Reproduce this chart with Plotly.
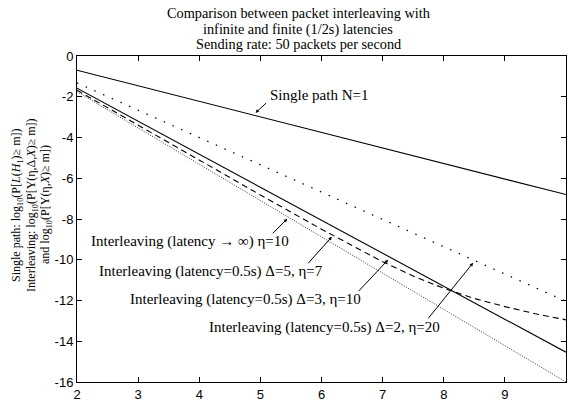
import plotly.graph_objects as go

m_vals = [2, 3, 4, 5, 6, 7, 7.5, 8, 8.5, 9, 9.5, 10]
single_path = [-0.7, -1.46, -2.22, -2.99, -3.75, -4.51, -4.89, -5.27, -5.65, -6.04, -6.42, -6.8]
inter_d2_eta20 = [-1.32, -2.66, -4.0, -5.34, -6.68, -8.02, -8.69, -9.36, -10.03, -10.7, -11.37, -12.04]
inter_d3_eta10 = [-1.58, -3.2, -4.82, -6.44, -8.06, -9.68, -10.49, -11.3, -12.11, -12.92, -13.73, -14.54]
inter_d5_eta7 = [-1.68, -3.4, -5.12, -6.82, -8.5, -10.1, -10.8, -11.4, -11.9, -12.3, -12.65, -12.95]
inter_inf_eta10 = [-1.75, -3.53, -5.31, -7.09, -8.88, -10.66, -11.55, -12.44, -13.33, -14.22, -15.11, -16.0]

x_ticks = [2, 3, 4, 5, 6, 7, 8, 9, 10]
y_ticks = [0, -2, -4, -6, -8, -10, -12, -14, -16]

title_lines = ["Comparison between packet interleaving with",
               "infinite and finite (1/2s) latencies",
               "Sending rate: 50 packets per second"]
ytitle_lines = ["Single path: log<sub>10</sub>(P[<i>L</i>(<i>H</i><sub>1</sub>)\u2265 m])",
                "Interleaving: log<sub>10</sub>(P[Y(\u03b7,\u0394,<i>X</i>)\u2265 m])",
                "and log<sub>10</sub>(P[Y(\u03b7,<i>X</i>)\u2265 m])"]

fig = go.Figure()
fig.add_trace(go.Scatter(x=m_vals, y=single_path, mode="lines",
                         line=dict(color="black", width=1.1)))
fig.add_trace(go.Scatter(x=m_vals, y=inter_d2_eta20, mode="lines",
                         line=dict(color="black", width=1.3, dash="1.5px,8px")))
fig.add_trace(go.Scatter(x=m_vals, y=inter_d3_eta10, mode="lines",
                         line=dict(color="black", width=1.1)))
fig.add_trace(go.Scatter(x=m_vals, y=inter_d5_eta7, mode="lines",
                         line=dict(color="black", width=1.1, dash="6px,4px")))
fig.add_trace(go.Scatter(x=m_vals, y=inter_inf_eta10, mode="lines",
                         line=dict(color="#333333", width=1, dash="1px,1.5px")))

serif = "Liberation Serif, Times New Roman, serif"
sans = "Liberation Sans, Arial, sans-serif"
labels = [
    ("Single path N=1", 5.13, -1.91, 4.92, -2.79, 12, -11),
    ("Interleaving (latency \u2192 \u221e) \u03b7=10", 2.19, -9.12, 5.44, -7.99, -16, 16),
    ("Interleaving (latency=0.5s) \u0394=5, \u03b7=7", 2.33, -10.59, 6.17, -8.87, -25, 28),
    ("Interleaving (latency=0.5s) \u0394=3, \u03b7=10", 2.84, -11.96, 7.09, -10.0, -31, 33),
    ("Interleaving (latency=0.5s) \u0394=2, \u03b7=20", 4.12, -13.33, 8.48, -10.15, -46, 57),
]
annotations = []
for text, tx, ty, ax_, ay_, dx, dy in labels:
    annotations.append(dict(x=tx, y=ty, xref="x", yref="y", text=text, showarrow=False,
                            xanchor="left", yanchor="middle",
                            font=dict(family=serif, size=15, color="black")))
    annotations.append(dict(x=ax_, y=ay_, xref="x", yref="y", text="", showarrow=True,
                            ax=dx, ay=dy, arrowhead=2, arrowsize=0.7, arrowwidth=1,
                            arrowcolor="black"))

# x-axis title
annotations.append(dict(x=6, y=0, xref="x", yref="paper", text="m", showarrow=False,
                        yanchor="top", yshift=-18,
                        font=dict(family=sans, size=12, color="black")))
# chart title (three lines)
for line, py in zip(title_lines, [13, 29, 44]):
    annotations.append(dict(x=0.452, y=(382 - py) / 326, xref="paper", yref="paper",
                            text=line, showarrow=False, xanchor="center", yanchor="middle",
                            font=dict(family=serif, size=14.3, color="black")))
# y-axis title (three lines)
for line, px in zip(ytitle_lines, [17, 32, 46]):
    annotations.append(dict(x=(px - 77) / 489, y=(382 - 205) / 326, xref="paper", yref="paper",
                            text=line, showarrow=False, textangle=-90,
                            xanchor="center", yanchor="middle",
                            font=dict(family=serif, size=12, color="black")))

fig.update_layout(
    width=572, height=406,
    margin=dict(l=77, r=6, t=56, b=24, autoexpand=False),
    paper_bgcolor="white", plot_bgcolor="white",
    showlegend=False,
    annotations=annotations,
    xaxis=dict(range=[2, 10], tickvals=x_ticks, ticktext=[str(v) for v in x_ticks],
               ticks="inside", ticklen=5, tickcolor="black", showline=True, automargin=False,
               linecolor="black", linewidth=1, mirror="ticks", showgrid=False, zeroline=False,
               tickfont=dict(family=sans, size=13, color="black")),
    yaxis=dict(range=[-16, 0], tickvals=y_ticks, ticktext=[str(v) for v in y_ticks],
               ticks="inside", ticklen=5, tickcolor="black", showline=True, automargin=False,
               linecolor="black", linewidth=1, mirror="ticks", showgrid=False, zeroline=False,
               tickfont=dict(family=sans, size=13, color="black")),
)

fig.write_html("out.html", config={"displayModeBar": False},
               post_script="document.body.style.margin='0';document.body.style.padding='0';")
